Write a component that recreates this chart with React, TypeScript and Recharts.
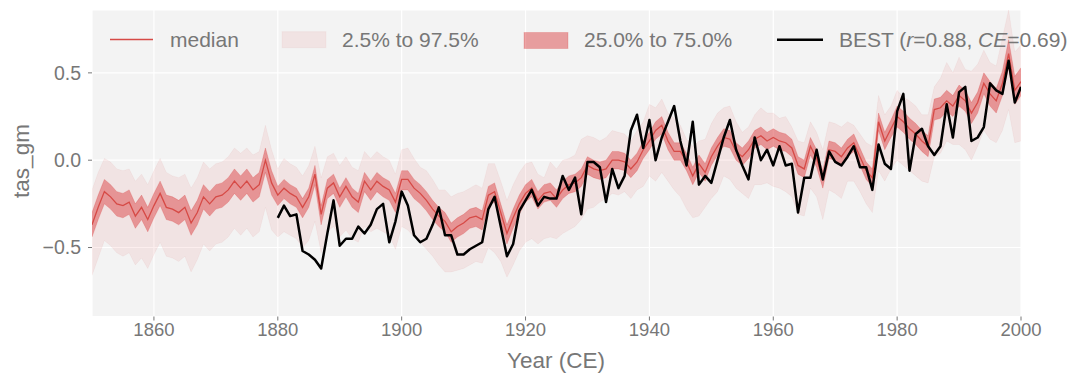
import React from 'react';
import { ComposedChart, Area, Line, XAxis, YAxis, CartesianGrid } from 'recharts';

const START_YEAR = 1850;
const BEST_START = 1880;
const X_TICKS = [1860, 1880, 1900, 1920, 1940, 1960, 1980, 2000];
const Y_TICKS = [-0.5, 0, 0.5];

const median = [
  -0.37, -0.27, -0.18, -0.21, -0.25, -0.26, -0.24, -0.32, -0.27, -0.34,
  -0.26, -0.19, -0.27, -0.28, -0.30, -0.27, -0.36, -0.30, -0.21, -0.25,
  -0.21, -0.20, -0.17, -0.12, -0.16, -0.12, -0.17, -0.14, 0.00, -0.13,
  -0.20, -0.16, -0.19, -0.21, -0.27, -0.21, -0.08, -0.31, -0.16, -0.13,
  -0.21, -0.15, -0.21, -0.24, -0.12, -0.17, -0.12, -0.15, -0.17, -0.24,
  -0.11, -0.11, -0.16, -0.19, -0.23, -0.28, -0.32, -0.35, -0.41, -0.38,
  -0.36, -0.33, -0.32, -0.34, -0.20, -0.18, -0.30, -0.42, -0.33, -0.25,
  -0.19, -0.16, -0.23, -0.19, -0.18, -0.22, -0.17, -0.14, -0.13, -0.10,
  -0.03, -0.05, -0.06, -0.05, 0.00, 0.00, -0.01, -0.05, -0.01, 0.06,
  0.11, 0.17, 0.20, 0.11, 0.05, 0.05, -0.01, -0.09, -0.02, -0.07,
  0.02, 0.08, 0.13, 0.12, 0.05, 0.02, 0.06, 0.12, 0.14, 0.11,
  0.13, 0.11, 0.10, 0.07, -0.03, -0.05, 0.08, 0.01, -0.11, 0.06,
  0.05, 0.02, 0.07, 0.10, 0.02, -0.06, -0.10, 0.22, 0.11, 0.18,
  0.25, 0.22, 0.18, 0.15, 0.11, 0.08, 0.29, 0.30, 0.34, 0.31,
  0.37, 0.34, 0.27, 0.33, 0.44, 0.38, 0.34, 0.44, 0.61, 0.40,
  0.45,
];

const q75 = [
  -0.30, -0.20, -0.11, -0.14, -0.18, -0.19, -0.17, -0.25, -0.20, -0.27,
  -0.19, -0.12, -0.20, -0.21, -0.23, -0.20, -0.29, -0.23, -0.14, -0.18,
  -0.14, -0.13, -0.10, -0.05, -0.09, -0.05, -0.10, -0.07, 0.07, -0.06,
  -0.15, -0.11, -0.14, -0.16, -0.22, -0.16, -0.03, -0.26, -0.11, -0.08,
  -0.16, -0.10, -0.16, -0.19, -0.07, -0.12, -0.07, -0.10, -0.12, -0.19,
  -0.06, -0.06, -0.11, -0.14, -0.18, -0.23, -0.27, -0.30, -0.36, -0.33,
  -0.31, -0.28, -0.27, -0.29, -0.15, -0.13, -0.25, -0.37, -0.28, -0.20,
  -0.14, -0.11, -0.18, -0.14, -0.13, -0.17, -0.12, -0.09, -0.08, -0.05,
  0.02, 0.00, -0.01, 0.00, 0.05, 0.05, 0.04, 0.00, 0.04, 0.11,
  0.16, 0.22, 0.25, 0.16, 0.10, 0.10, 0.04, -0.04, 0.03, -0.02,
  0.07, 0.13, 0.18, 0.17, 0.10, 0.07, 0.11, 0.17, 0.19, 0.16,
  0.18, 0.16, 0.15, 0.12, 0.02, 0.00, 0.13, 0.06, -0.06, 0.11,
  0.10, 0.07, 0.12, 0.15, 0.07, -0.01, -0.05, 0.27, 0.16, 0.23,
  0.31, 0.28, 0.24, 0.21, 0.17, 0.14, 0.35, 0.36, 0.40, 0.37,
  0.43, 0.40, 0.33, 0.39, 0.50, 0.45, 0.41, 0.51, 0.69, 0.48,
  0.53,
];

const q25 = [
  -0.44, -0.34, -0.25, -0.28, -0.32, -0.33, -0.31, -0.39, -0.34, -0.41,
  -0.33, -0.26, -0.34, -0.35, -0.37, -0.34, -0.43, -0.37, -0.28, -0.32,
  -0.28, -0.27, -0.24, -0.19, -0.23, -0.19, -0.24, -0.21, -0.07, -0.20,
  -0.26, -0.22, -0.25, -0.27, -0.33, -0.27, -0.14, -0.37, -0.22, -0.19,
  -0.27, -0.21, -0.27, -0.30, -0.18, -0.23, -0.18, -0.21, -0.23, -0.30,
  -0.17, -0.17, -0.22, -0.25, -0.29, -0.34, -0.38, -0.41, -0.47, -0.44,
  -0.42, -0.39, -0.38, -0.40, -0.26, -0.24, -0.36, -0.48, -0.39, -0.31,
  -0.24, -0.21, -0.28, -0.24, -0.23, -0.27, -0.22, -0.19, -0.18, -0.15,
  -0.08, -0.10, -0.11, -0.10, -0.05, -0.05, -0.06, -0.10, -0.06, 0.01,
  0.06, 0.12, 0.15, 0.06, 0.00, 0.00, -0.06, -0.14, -0.07, -0.12,
  -0.03, 0.03, 0.08, 0.07, 0.00, -0.03, 0.01, 0.07, 0.09, 0.06,
  0.08, 0.06, 0.05, 0.02, -0.08, -0.10, 0.03, -0.04, -0.16, 0.01,
  0.00, -0.03, 0.02, 0.05, -0.03, -0.11, -0.15, 0.17, 0.06, 0.13,
  0.19, 0.16, 0.12, 0.09, 0.05, 0.02, 0.23, 0.24, 0.28, 0.25,
  0.31, 0.28, 0.21, 0.27, 0.38, 0.31, 0.27, 0.37, 0.53, 0.32,
  0.37,
];

const q975 = [
  -0.17, -0.07, 0.01, -0.01, -0.05, -0.06, -0.05, -0.12, -0.08, -0.14,
  -0.06, 0.01, -0.07, -0.09, -0.10, -0.08, -0.16, -0.10, -0.01, -0.05,
  -0.02, -0.01, 0.02, 0.07, 0.04, 0.07, 0.03, 0.05, 0.20, 0.06,
  -0.05, 0.01, -0.02, -0.04, -0.09, -0.03, 0.08, -0.10, 0.02, 0.04,
  -0.03, 0.02, -0.04, -0.06, 0.05, 0.01, 0.05, 0.02, 0.00, -0.08,
  0.06, 0.07, 0.01, -0.04, -0.06, -0.11, -0.17, -0.17, -0.21, -0.19,
  -0.18, -0.16, -0.14, -0.16, -0.02, -0.02, -0.12, -0.23, -0.14, -0.07,
  -0.02, -0.01, -0.08, -0.10, -0.01, -0.05, 0.00, 0.01, 0.03, 0.12,
  0.14, 0.13, 0.11, 0.13, 0.17, 0.16, 0.15, 0.11, 0.17, 0.22,
  0.32, 0.30, 0.35, 0.27, 0.24, 0.20, 0.12, 0.08, 0.11, 0.12,
  0.21, 0.27, 0.30, 0.31, 0.22, 0.16, 0.19, 0.26, 0.30, 0.27,
  0.27, 0.24, 0.25, 0.19, 0.11, 0.10, 0.22, 0.16, 0.06, 0.22,
  0.21, 0.19, 0.22, 0.20, 0.15, 0.10, 0.08, 0.37, 0.26, 0.31,
  0.40, 0.36, 0.34, 0.31, 0.26, 0.26, 0.42, 0.47, 0.56, 0.50,
  0.59, 0.52, 0.51, 0.55, 0.63, 0.56, 0.54, 0.70, 0.86, 0.62,
  0.66,
];

const q025 = [
  -0.66, -0.56, -0.46, -0.49, -0.53, -0.55, -0.53, -0.60, -0.56, -0.62,
  -0.54, -0.47, -0.55, -0.56, -0.58, -0.55, -0.64, -0.57, -0.48, -0.52,
  -0.48, -0.47, -0.44, -0.39, -0.43, -0.39, -0.44, -0.41, -0.27, -0.40,
  -0.44, -0.41, -0.43, -0.45, -0.50, -0.46, -0.35, -0.53, -0.41, -0.38,
  -0.44, -0.40, -0.45, -0.47, -0.38, -0.41, -0.39, -0.41, -0.43, -0.51,
  -0.38, -0.40, -0.44, -0.47, -0.51, -0.55, -0.60, -0.64, -0.64, -0.63,
  -0.62, -0.60, -0.58, -0.59, -0.50, -0.53, -0.58, -0.67, -0.60, -0.52,
  -0.47, -0.45, -0.48, -0.45, -0.44, -0.45, -0.42, -0.40, -0.38, -0.34,
  -0.28, -0.27, -0.24, -0.22, -0.19, -0.20, -0.18, -0.22, -0.17, -0.15,
  -0.09, -0.12, -0.07, -0.12, -0.17, -0.21, -0.28, -0.33, -0.32, -0.27,
  -0.22, -0.18, -0.09, -0.11, -0.16, -0.19, -0.22, -0.14, -0.14, -0.13,
  -0.15, -0.16, -0.18, -0.21, -0.31, -0.32, -0.16, -0.21, -0.34, -0.17,
  -0.19, -0.22, -0.12, -0.12, -0.18, -0.25, -0.30, -0.06, -0.12, -0.05,
  0.00, -0.03, -0.06, -0.09, -0.12, -0.13, 0.02, 0.04, 0.11, 0.09,
  0.09, 0.06, 0.00, 0.08, 0.17, 0.12, 0.10, 0.17, 0.29, 0.10,
  0.11,
];

const best = [
  -0.33, -0.26, -0.32, -0.31, -0.52, -0.54, -0.57, -0.62, -0.42, -0.23,
  -0.49, -0.45, -0.45, -0.38, -0.42, -0.37, -0.28, -0.25, -0.47, -0.35,
  -0.18, -0.26, -0.43, -0.47, -0.45, -0.37, -0.27, -0.43, -0.43, -0.54,
  -0.54, -0.51, -0.49, -0.47, -0.28, -0.21, -0.38, -0.55, -0.48, -0.29,
  -0.23, -0.17, -0.26, -0.21, -0.22, -0.22, -0.09, -0.17, -0.10, -0.31,
  -0.01, -0.01, -0.04, -0.24, -0.05, -0.16, -0.09, 0.17, 0.26, 0.07,
  0.23, 0.00, 0.13, 0.22, 0.31, 0.11, -0.03, 0.22, -0.14, -0.09,
  -0.13, 0.00, 0.13, 0.23, 0.06, -0.03, -0.11, 0.13, 0.00, 0.06,
  -0.03, 0.08, -0.03, -0.02, -0.30, -0.10, -0.10, 0.06, -0.11, 0.05,
  -0.01, -0.03, 0.02, 0.08, -0.04, -0.04, -0.17, 0.09, -0.02, -0.05,
  0.28, 0.38, -0.06, 0.15, 0.18, 0.08, 0.03, 0.08, 0.32, 0.13,
  0.39, 0.42, 0.11, 0.13, 0.19, 0.44, 0.40, 0.38, 0.57, 0.33,
  0.42,
];

const data = median.map((m, i) => {
  const year = START_YEAR + i;
  const bi = year - BEST_START;
  return {
    year,
    median: m,
    inner: [q25[i], q75[i]],
    outer: [q025[i], q975[i]],
    best: bi >= 0 ? best[bi] : null,
  };
});

const FONT = "'Liberation Sans', Arial, Helvetica, sans-serif";
const GRAY = '#777777';
const RED = '#d62728';

const W = 1075;
const H = 365;

const fmtY = (v: number) => {
  if (v === 0) return '0.0';
  return (v < 0 ? '\u2212' : '') + Math.abs(v).toFixed(1);
};

export default function App() {
  return (
    <div style={{ position: 'relative', width: W, height: H, overflow: 'hidden' }}>
      <ComposedChart
        width={W}
        height={H}
        data={data}
        margin={{ top: 2, right: 62, bottom: 16.5, left: 0 }}
      >
        <CartesianGrid fill="#f3f3f3" fillOpacity={1} stroke="#ffffff" strokeWidth={1.2} />
        <XAxis
          dataKey="year"
          type="number"
          domain={[1850, 2000]}
          ticks={X_TICKS}
          height={40}
          tickSize={4}
          tickMargin={2}
          axisLine={false}
          tickLine={{ stroke: GRAY }}
          tick={{ fill: GRAY, fontSize: 18.5, fontFamily: FONT }}
          allowDataOverflow
        />
        <YAxis
          type="number"
          domain={[-0.895, 0.86]}
          ticks={Y_TICKS}
          width={84}
          tickSize={4}
          tickMargin={7}
          axisLine={false}
          tickLine={{ stroke: GRAY }}
          tick={{ fill: GRAY, fontSize: 19.5, fontFamily: FONT }}
          tickFormatter={fmtY}
          allowDataOverflow
        />
        <Area
          dataKey="outer"
          type="linear"
          fill={RED}
          fillOpacity={0.08}
          stroke={RED}
          strokeOpacity={0.04}
          strokeWidth={1}
          dot={false}
          activeDot={false}
          isAnimationActive={false}
        />
        <Area
          dataKey="inner"
          type="linear"
          fill={RED}
          fillOpacity={0.42}
          stroke={RED}
          strokeOpacity={0.2}
          strokeWidth={1}
          dot={false}
          activeDot={false}
          isAnimationActive={false}
        />
        <Line
          dataKey="median"
          type="linear"
          stroke="#d64a46"
          strokeWidth={1.3}
          dot={false}
          activeDot={false}
          isAnimationActive={false}
        />
        <Line
          dataKey="best"
          type="linear"
          stroke="#000000"
          strokeWidth={2.5}
          strokeLinejoin="round"
          dot={false}
          activeDot={false}
          connectNulls={false}
          isAnimationActive={false}
        />
      </ComposedChart>
      <svg
        width={W}
        height={H}
        style={{ position: 'absolute', left: 0, top: 0, pointerEvents: 'none' }}
      >
        <g fontFamily={FONT} fill={GRAY}>
          <line x1={102} x2={145} y1={31.5} y2={31.5} stroke="#d64a46" strokeWidth={1.3} />
          <text x={162} y={39.3} fontSize={21}>median</text>
          <rect x={274} y={23.7} width={44} height={16} fill={RED} fillOpacity={0.08} stroke={RED} strokeOpacity={0.04} />
          <text x={334} y={39.3} fontSize={21}>2.5% to 97.5%</text>
          <rect x={516} y={24.5} width={44} height={16} fill={RED} fillOpacity={0.42} stroke={RED} strokeOpacity={0.2} />
          <text x={576} y={39.3} fontSize={21}>25.0% to 75.0%</text>
          <line x1={769} x2={815} y1={31.8} y2={31.8} stroke="#000000" strokeWidth={2.5} />
          <text x={831} y={39.3} fontSize={21}>
            BEST (<tspan fontStyle="italic">r</tspan>=0.88, <tspan fontStyle="italic">CE</tspan>=0.69)
          </text>
          <text x={548} y={360} fontSize={22.5} textAnchor="middle">Year (CE)</text>
          <text
            x={21}
            y={153}
            fontSize={22.5}
            textAnchor="middle"
            transform="rotate(-90 21 153)"
          >
            tas_gm
          </text>
        </g>
      </svg>
    </div>
  );
}
